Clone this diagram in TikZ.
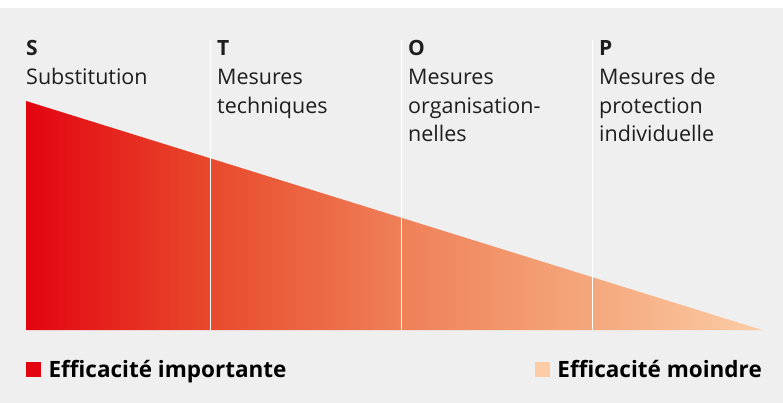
\documentclass[tikz,border=0pt]{standalone}
\usepackage{fontspec}
\setmainfont{Open Sans}
\usetikzlibrary{positioning}

\definecolor{pagegray}{RGB}{239,239,239}
\definecolor{stopred}{RGB}{227,4,17}
\definecolor{stopT}{RGB}{232,74,44}
\definecolor{stopO}{RGB}{239,128,88}
\definecolor{stopP}{RGB}{245,168,125}
\definecolor{stoppeach}{RGB}{251,204,165}
\definecolor{stoptext}{RGB}{30,30,30}

% lines of a column text, baseline on the first line
\newcommand{\colstack}[1]{\begin{tabular}[t]{@{}l@{}}#1\end{tabular}}

% fade from red (S) to peach (P), stops at the dividers
\pgfdeclarehorizontalshading{stopshade}{100bp}{%
  color(0bp)=(stopred); color(25bp)=(stopred);
  color(37.5bp)=(stopT); color(50.5bp)=(stopO);
  color(63.5bp)=(stopP); color(75bp)=(stoppeach);
  color(100bp)=(stoppeach)}

\tikzset{
  letter/.style={anchor=base west, inner sep=0pt, text=stoptext,
    font=\fontsize{21}{25}\selectfont\bfseries},
  desc/.style={anchor=base west, inner sep=0pt, text=stoptext,
    font=\fontsize{21.5}{28.5}\selectfont},
  divider/.style={white, line width=1pt},
  legsq/.style={inner sep=0pt, minimum size=15pt},
  legend/.style={inner sep=0pt, text=black,
    font=\fontsize{22.5}{26}\selectfont\bfseries},
}

\begin{document}
\begin{tikzpicture}[x=1pt,y=-1pt]
  \useasboundingbox (0,0) rectangle (783,403);
  \fill[pagegray] (0,8) rectangle (783,403);

  % the wedge
  \shade[shading=stopshade] (26,101) -- (762,330) -- (26,330) -- cycle;

  % column dividers
  \foreach \x in {210,401,592} {
    \draw[divider] (\x,40) -- (\x,330);
  }

  % column headings
  \node[letter] (S) at (26,56) {S};
  \node[letter] (T) at (217,56) {T};
  \node[letter] (O) at (408,56) {O};
  \node[letter] (P) at (599,56) {P};

  \node[desc] (subst) at ([yshift=-29pt]S.base west) {\colstack{Substitution}};
  \node[desc] (techn) at ([yshift=-29pt]T.base west) {\colstack{Mesures\\techniques}};
  \node[desc] (organ) at ([yshift=-29pt]O.base west) {\colstack{Mesures\\organisation-\\nelles}};
  \node[desc] (prot) at ([yshift=-29pt]P.base west) {\colstack{Mesures de\\protection\\individuelle}};

  % legend
  \node[legsq, fill=stopred, anchor=south west] (sqhigh) at (26,377) {};
  \node[legend, anchor=base west] (high) at ([xshift=7pt]sqhigh.south east) {Efficacité importante};
  \node[legend, anchor=base east] (low) at (762,377) {Efficacité moindre};
  \node[legsq, fill=stoppeach, anchor=south east] (sqlow) at ([xshift=-7pt]low.base west) {};
\end{tikzpicture}
\end{document}
